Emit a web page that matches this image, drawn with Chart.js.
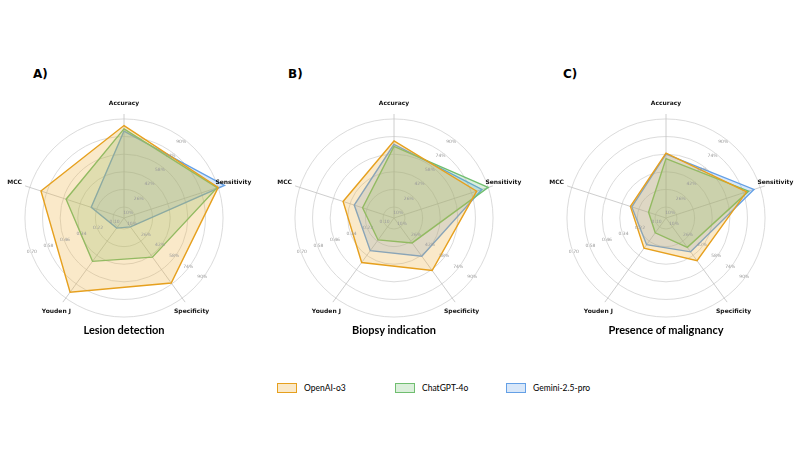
<!DOCTYPE html>
<html>
<head>
<meta charset="utf-8">
<script src="https://cdn.jsdelivr.net/npm/chart.js@4.4.1/dist/chart.umd.min.js"></script>
<style>
    html, body { margin: 0; padding: 0; background: #fff; overflow: hidden; }
    #wrap { position: relative; width: 800px; height: 450px; }
    .panel { position: absolute; width: 270px; height: 270px; }
    .tag { position: absolute; top: 67px; font: bold 12px "DejaVu Sans"; color: #000; }
    .caption { position: absolute; top: 323px; width: 200px; text-align: center; font: bold 11px Lato; color: #000; }
    .legend-item { position: absolute; top: 382px; height: 12px; display: flex; align-items: center; font: 8.5px Lato; color: #000; }
    .legend-item .box { width: 18px; height: 8px; border: 1px solid; margin-right: 7px; }
</style>
</head>
<body>
<div id="wrap"></div>
<script>
const metrics = ["Accuracy", "Sensitivity", "Specificity", "Youden J", "MCC"];
const models = ["OpenAI-o3", "ChatGPT-4o", "Gemini-2.5-pro"];
const tasks = ["Lesion detection", "Biopsy indication", "Presence of malignancy"];
const panelTags = ["A)", "B)", "C)"];

// ring labels: percent for Accuracy/Sensitivity/Specificity, coefficient for Youden J/MCC
const pctTicks = [10, 26, 42, 58, 74, 90];
const coefTicks = [0.10, 0.22, 0.34, 0.46, 0.58, 0.70];

// [Accuracy %, Sensitivity %, Specificity %, Youden J, MCC]
const lesionO3 = [84, 90, 73, 0.65, 0.62];
const lesionGpt = [81, 89, 44, 0.39, 0.44];
const lesionGemini = [79, 96, 10, 0.11, 0.26];

const biopsyO3 = [70, 79, 59, 0.40, 0.39];
const biopsyGpt = [65, 90, 28, 0.21, 0.25];
const biopsyGemini = [67, 84, 43, 0.30, 0.31];

const malignO3 = [59, 77, 48, 0.28, 0.28];
const malignGpt = [54, 79, 33, 0.15, 0.15];
const malignGemini = [58, 84, 38, 0.25, 0.27];

const taskData = [
    [lesionO3, lesionGpt, lesionGemini],
    [biopsyO3, biopsyGpt, biopsyGemini],
    [malignO3, malignGpt, malignGemini],
];

const lineColors = ["rgb(230, 160, 30)", "rgb(112, 190, 112)", "rgb(100, 160, 230)"];
const fillColors = ["rgba(236, 175, 60, .28)", "rgba(112, 190, 112, .25)", "rgba(100, 160, 230, .25)"];

// layout
const centers = [[124, 218], [394, 218], [666, 218]];
const tagX = [33, 288, 563];
const legendX = [277, 395, 506];

// Youden J / MCC sit on the same rings, with their own labels
function toRing(v, i) {
    if (i < 3) return v;
    const step = (pctTicks[1] - pctTicks[0]) / (coefTicks[1] - coefTicks[0]);
    return pctTicks[0] + (v - coefTicks[0]) * step;
}

const radarText = {
    id: "radarText",
    afterDatasetsDraw(chart) {
        const s = chart.scales.r;
        const ctx = chart.ctx;
        ctx.save();
        ctx.textAlign = "center";
        ctx.textBaseline = "middle";

        ctx.font = "4.5px 'DejaVu Sans'";
        ctx.fillStyle = "#999";
        const rows = [
            { deg: 37, inset: 4, labels: pctTicks.map((v) => v + "%") },
            { deg: 127, inset: 1, labels: pctTicks.map((v) => v + "%") },
            { deg: 250, inset: 1, labels: coefTicks.map((v) => v.toFixed(2)) },
        ];
        rows.forEach((row) => {
            const a = (row.deg * Math.PI) / 180;
            row.labels.forEach((lab, j) => {
                const r = s.getDistanceFromCenterForValue(pctTicks[j]) - row.inset;
                ctx.fillText(lab, s.xCenter + r * Math.sin(a), s.yCenter - r * Math.cos(a));
            });
        });

        ctx.font = "bold 6px 'DejaVu Sans'";
        ctx.fillStyle = "#111";
        chart.data.labels.forEach((lab, i) => {
            const p = s.getPointPosition(i, s.drawingArea * 115 / 104);
            ctx.fillText(lab, p.x, p.y);
        });
        ctx.restore();
    },
};

const wrap = document.getElementById("wrap");
const charts = [];

tasks.forEach((task, t) => {
    const [cx, cy] = centers[t];

    const panel = document.createElement("div");
    panel.className = "panel";
    panel.style.left = cx - 135 + "px";
    panel.style.top = cy - 135 + "px";
    const canvas = document.createElement("canvas");
    panel.appendChild(canvas);
    wrap.appendChild(panel);

    const tag = document.createElement("div");
    tag.className = "tag";
    tag.style.left = tagX[t] + "px";
    tag.textContent = panelTags[t];
    wrap.appendChild(tag);

    const cap = document.createElement("div");
    cap.className = "caption";
    cap.style.left = cx - 100 + "px";
    cap.textContent = task;
    wrap.appendChild(cap);

    charts.push(new Chart(canvas, {
        type: "radar",
        data: {
            labels: metrics,
            datasets: models.map((m, k) => ({
                label: m,
                data: taskData[t][k].map(toRing),
                fill: true,
                backgroundColor: fillColors[k],
                borderColor: lineColors[k],
                borderWidth: 1.4,
                pointRadius: 0,
            })),
        },
        options: {
            responsive: true,
            maintainAspectRatio: false,
            animation: false,
            layout: { padding: 31 },
            elements: { line: { tension: 0 } },
            plugins: { legend: { display: false }, tooltip: { enabled: false } },
            scales: {
                r: {
                    min: 0,
                    max: 94.5,
                    afterBuildTicks: (s) => {
                        s.ticks = [0, ...pctTicks].map((v) => ({ value: v }));
                    },
                    ticks: { display: false },
                    pointLabels: { display: false },
                    grid: { circular: true, color: "#d2d2d2", lineWidth: 0.8 },
                    angleLines: { color: "#c2c2c2", lineWidth: 0.8 },
                },
            },
        },
        plugins: [radarText],
    }));
});

// html legend from the first chart's datasets
charts[0].data.datasets.forEach((ds, k) => {
    const item = document.createElement("div");
    item.className = "legend-item";
    item.style.left = legendX[k] + "px";
    const box = document.createElement("span");
    box.className = "box";
    box.style.borderColor = ds.borderColor;
    box.style.background = ds.backgroundColor;
    item.appendChild(box);
    item.appendChild(document.createTextNode(ds.label));
    wrap.appendChild(item);
});
</script>
</body>
</html>
